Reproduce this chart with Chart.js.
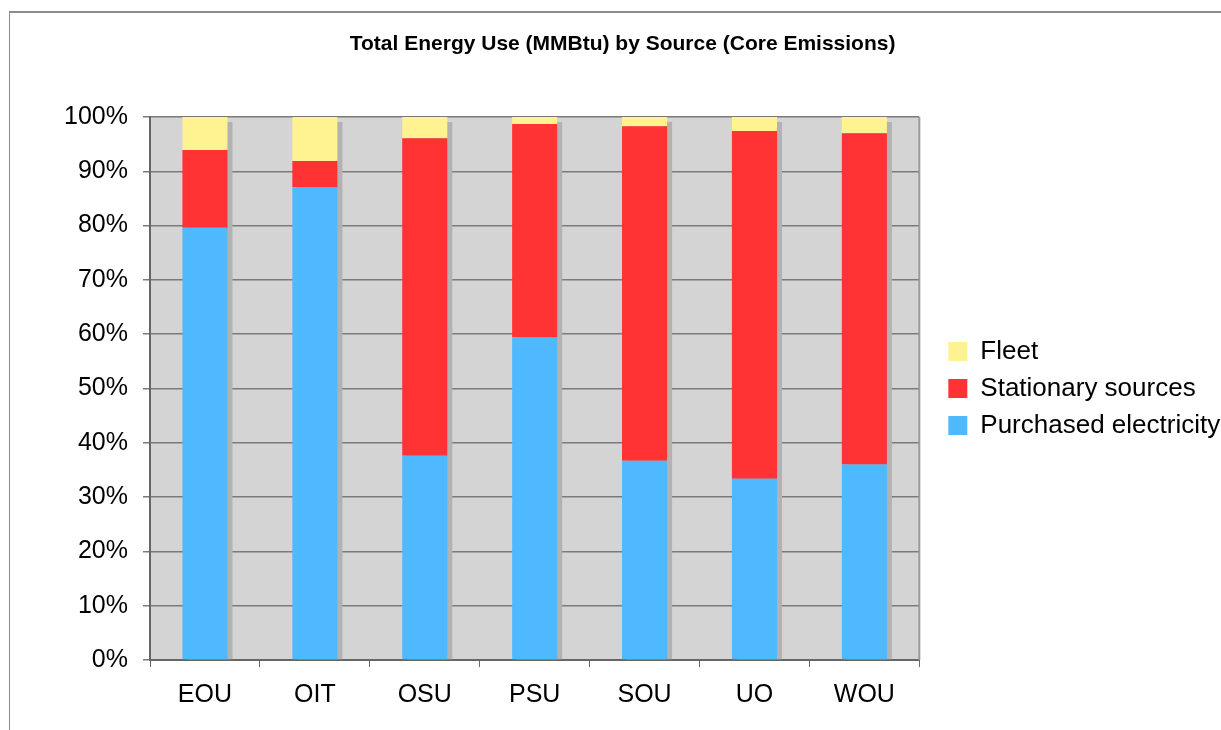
<!DOCTYPE html>
<html>
<head>
<meta charset="utf-8">
<script src="https://cdn.jsdelivr.net/npm/chart.js@4.4.1/dist/chart.umd.min.js"></script>
<style>
    html, body { margin: 0; padding: 0; background: #ffffff; }
    #wrap { position: relative; width: 1221px; height: 730px; overflow: hidden; }
    #frame {
        position: absolute; left: 9px; top: 11px; width: 1400px; height: 900px;
        border-top: 2px solid #8c8c8c; border-left: 1px solid #8c8c8c;
    }
    #energyChart { position: absolute; left: 0; top: 0; }
</style>
</head>
<body>
<div id="wrap">
    <div id="frame"></div>
    <canvas id="energyChart" width="1221" height="730"></canvas>
</div>
<script>
// Campuses
const campuses = ["EOU", "OIT", "OSU", "PSU", "SOU", "UO", "WOU"];

// Share of total energy use (%)
const purchasedElectricity = [79.6, 87.0, 37.6, 59.4, 36.7, 33.4, 36.0];
const stationarySources = [14.3, 4.9, 58.5, 39.3, 61.6, 64.0, 61.0];
const fleet = [6.1, 8.1, 3.9, 1.3, 1.7, 2.6, 3.0];

// Y axis ticks
const yTicks = [0, 10, 20, 30, 40, 50, 60, 70, 80, 90, 100];

const FONT = "'Liberation Sans', Arial, sans-serif";

// Grey plot background + right border
const plotBackground = {
    id: "plotBackground",
    beforeDraw(chart) {
        const { ctx, chartArea: a } = chart;
        ctx.save();
        ctx.fillStyle = "#d4d4d4";
        ctx.fillRect(a.left, a.top, a.right - a.left, a.bottom - a.top);
        ctx.restore();
    },
    beforeDatasetsDraw(chart) {
        const { ctx, chartArea: a } = chart;
        ctx.save();
        ctx.strokeStyle = "#9a9a9a";
        ctx.lineWidth = 2;
        ctx.beginPath();
        ctx.moveTo(a.right, a.top);
        ctx.lineTo(a.right, a.bottom);
        ctx.stroke();
        ctx.restore();
    },
};

// Drop shadow behind each stacked bar
const barShadow = {
    id: "barShadow",
    beforeDatasetsDraw(chart) {
        const { ctx } = chart;
        const first = chart.getDatasetMeta(0).data;
        const last = chart.getDatasetMeta(chart.data.datasets.length - 1).data;
        ctx.save();
        ctx.fillStyle = "#b2b2b2";
        first.forEach((bar, i) => {
            const top = last[i].y;
            const w = bar.width;
            ctx.fillRect(bar.x - w / 2 + 5, top + 5, w, bar.base - top - 5);
        });
        ctx.restore();
    },
};

// Move the legend away from the plot area a bit
const legendNudge = {
    id: "legendNudge",
    afterLayout(chart) {
        const l = chart.legend;
        if (l) {
            l.left += 18;
            l.right += 18;
        }
    },
};

const ctx = document.getElementById("energyChart").getContext("2d");

new Chart(ctx, {
    type: "bar",
    data: {
        labels: campuses,
        datasets: [
            {
                label: "Purchased electricity",
                data: purchasedElectricity,
                backgroundColor: "#4fb9ff",
            },
            {
                label: "Stationary sources",
                data: stationarySources,
                backgroundColor: "#ff3333",
            },
            {
                label: "Fleet",
                data: fleet,
                backgroundColor: "#fff291",
            },
        ],
    },
    options: {
        responsive: false,
        animation: false,
        layout: {
            padding: { top: 10, left: 33, right: 8.8, bottom: 7 },
        },
        datasets: {
            bar: { barPercentage: 0.41, categoryPercentage: 1.0 },
        },
        plugins: {
            title: {
                display: true,
                text: "Total Energy Use (MMBtu) by Source (Core Emissions)",
                color: "#000000",
                font: { family: FONT, size: 21, weight: "bold" },
                padding: { top: 21.4, bottom: 60.4 },
            },
            legend: {
                position: "right",
                fullSize: false,
                reverse: true,
                labels: {
                    color: "#000000",
                    font: { family: FONT, size: 26 },
                    boxWidth: 19,
                    boxHeight: 19,
                    padding: 11,
                },
            },
            tooltip: { enabled: false },
        },
        scales: {
            x: {
                stacked: true,
                grid: {
                    display: true,
                    offset: true,
                    drawOnChartArea: false,
                    tickLength: 7,
                    tickColor: "#666666",
                },
                border: { color: "#666666", width: 2 },
                ticks: {
                    color: "#000000",
                    font: { family: FONT, size: 25 },
                    padding: 13,
                },
            },
            y: {
                stacked: true,
                min: 0,
                max: 100,
                afterFit: (scale) => { scale.width = 117; },
                afterBuildTicks: (scale) => {
                    scale.ticks = yTicks.map((v) => ({ value: v }));
                },
                grid: {
                    color: "#7a7a7a",
                    lineWidth: 1.5,
                    tickLength: 7,
                    tickColor: "#7a7a7a",
                },
                border: { color: "#666666", width: 2 },
                ticks: {
                    color: "#000000",
                    font: { family: FONT, size: 25 },
                    padding: 15,
                    callback: (v) => v + "%",
                },
            },
        },
    },
    plugins: [plotBackground, barShadow, legendNudge],
});
</script>
</body>
</html>
